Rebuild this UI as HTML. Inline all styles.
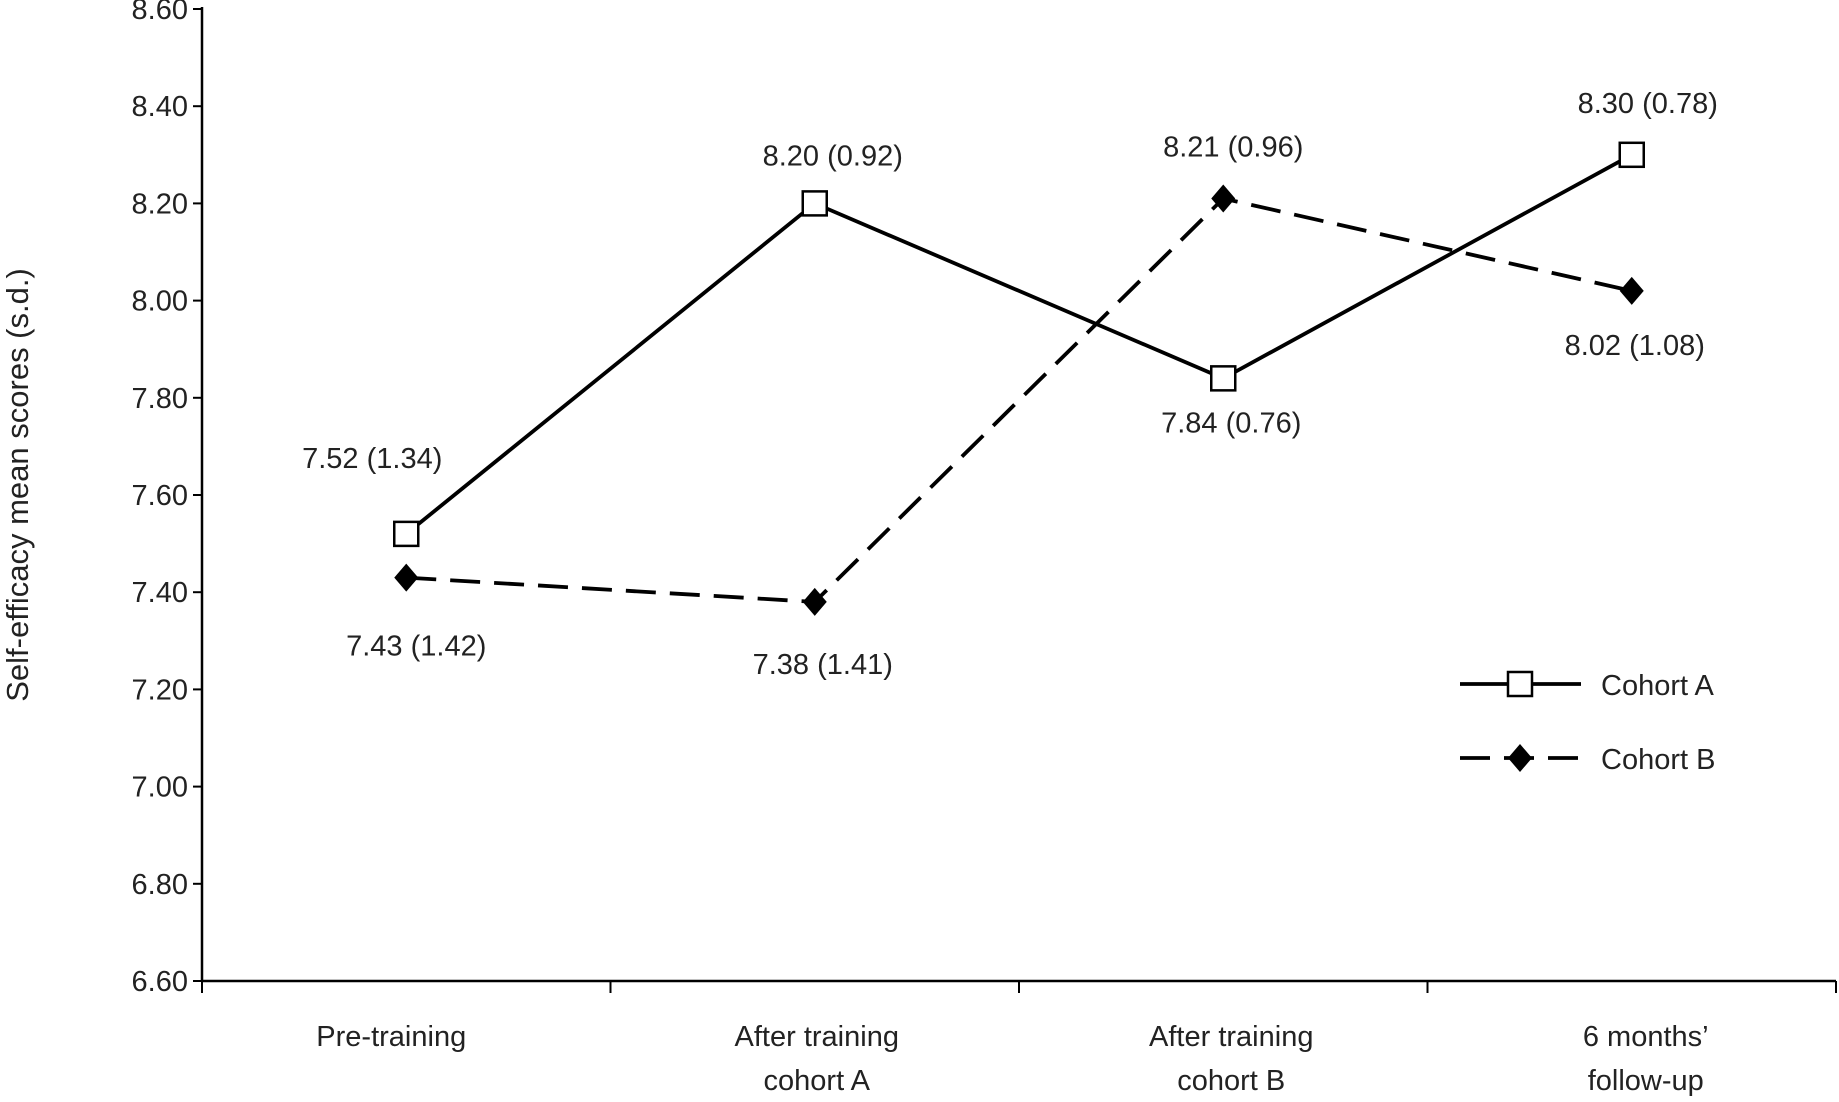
<!DOCTYPE html>
<html><head><meta charset="utf-8"><style>
html,body{margin:0;padding:0;background:#fff;}
svg{display:block;font-family:"Liberation Sans",sans-serif;}
</style></head><body>
<svg id="chart" width="1839" height="1102" viewBox="0 0 1839 1102"></svg>
<script>
const categories=["Pre-training","After training|cohort A","After training|cohort B","6 months’|follow-up"];
const cohortA=[7.52,8.20,7.84,8.30];
const cohortB=[7.43,7.38,8.21,8.02];
const labelsA=["7.52 (1.34)","8.20 (0.92)","7.84 (0.76)","8.30 (0.78)"];
const labelsB=["7.43 (1.42)","7.38 (1.41)","8.21 (0.96)","8.02 (1.08)"];
const yTicks=[6.6,6.8,7.0,7.2,7.4,7.6,7.8,8.0,8.2,8.4,8.6];
const NS="http://www.w3.org/2000/svg";
const svg=document.getElementById('chart');
const X0=202,X1=1836,Y0=981,Y1=9;
const band=(X1-X0)/categories.length;
const xs=i=>X0+band*(i+0.5);
const ys=v=>Y0-(v-6.6)/(8.6-6.6)*(Y0-Y1);
function mk(t,a,p){const e=document.createElementNS(NS,t);for(const k in a)e.setAttribute(k,a[k]);(p||svg).appendChild(e);return e;}
let e=mk('line',{x1:X0,y1:Y1-2,x2:X0,y2:Y0,stroke:'#000','stroke-width':2.5});


e=mk('line',{x1:X0,y1:Y0,x2:X1,y2:Y0,stroke:'#000','stroke-width':2.5});


yTicks.forEach(v=>{
  const y=ys(v);
  let t=mk('line',{x1:X0-9,y1:y,x2:X0,y2:y,stroke:'#000','stroke-width':2});
  
  
  let l=mk('text',{x:188,y:y+10,'text-anchor':'end','font-size':29,fill:'#222'});
  l.textContent=v.toFixed(2);
  
  
});
for(let i=0;i<=categories.length;i++){
  const x=X0+band*i;
  let t=mk('line',{x1:x,y1:Y0,x2:x,y2:Y0+12,stroke:'#000','stroke-width':2});
  
  
}
const catDx=[-15,2,8,14];
categories.forEach((c,i)=>{
  c.split('|').forEach((ln,j)=>{
    let l=mk('text',{x:xs(i)+catDx[i],y:1046+j*44,'text-anchor':'middle','font-size':29,fill:'#222'});
    l.textContent=ln;
    
    
  });
});
let yl=mk('text',{x:0,y:0,transform:'translate(28,485) rotate(-90)','text-anchor':'middle','font-size':31,fill:'#222'});
yl.textContent='Self-efficacy mean scores (s.d.)';


const pA=cohortA.map((v,i)=>xs(i)+','+ys(v)).join(' ');
const pB=cohortB.map((v,i)=>xs(i)+','+ys(v)).join(' ');
let la=mk('polyline',{points:pA,fill:'none',stroke:'#000','stroke-width':3.8});


let lb=mk('polyline',{points:pB,fill:'none',stroke:'#000','stroke-width':3.8,'stroke-dasharray':'30 14'});


function sq(x,y){return mk('rect',{x:x-12,y:y-12,width:24,height:24,fill:'#fff',stroke:'#000','stroke-width':2.5});}
function dia(x,y){return mk('polygon',{points:`${x},${y-14} ${x+12},${y} ${x},${y+14} ${x-12},${y}`,fill:'#000'});}
cohortA.forEach((v,i)=>{
  const m=sq(xs(i),ys(v));
  
  
});
cohortB.forEach((v,i)=>{
  const m=dia(xs(i),ys(v));
  
  
});
const aDx=[-34,18,8,16], aDy=[-66,-38,54,-42];
const bDx=[10,8,10,3], bDy=[78,72,-42,64];
cohortA.forEach((v,i)=>{
  let t=mk('text',{x:xs(i)+aDx[i],y:ys(v)+aDy[i],'text-anchor':'middle','font-size':29,fill:'#222'});
  t.textContent=labelsA[i];
  
  
});
cohortB.forEach((v,i)=>{
  let t=mk('text',{x:xs(i)+bDx[i],y:ys(v)+bDy[i],'text-anchor':'middle','font-size':29,fill:'#222'});
  t.textContent=labelsB[i];
  
  
});
const g=mk('g',{});


mk('line',{x1:1460,y1:684,x2:1581,y2:684,stroke:'#000','stroke-width':3.8},g);
let s=mk('rect',{x:1508,y:672,width:24,height:24,fill:'#fff',stroke:'#000','stroke-width':2.5},g);


let ta=mk('text',{x:1601,y:695,'font-size':29,fill:'#222'},g);
ta.textContent='Cohort A';


mk('line',{x1:1460,y1:758,x2:1581,y2:758,stroke:'#000','stroke-width':3.8,'stroke-dasharray':'30 14'},g);
let d=mk('polygon',{points:'1520,744 1532,758 1520,772 1508,758',fill:'#000'},g);


let tb=mk('text',{x:1601,y:769,'font-size':29,fill:'#222'},g);
tb.textContent='Cohort B';


</script>
</body></html>
